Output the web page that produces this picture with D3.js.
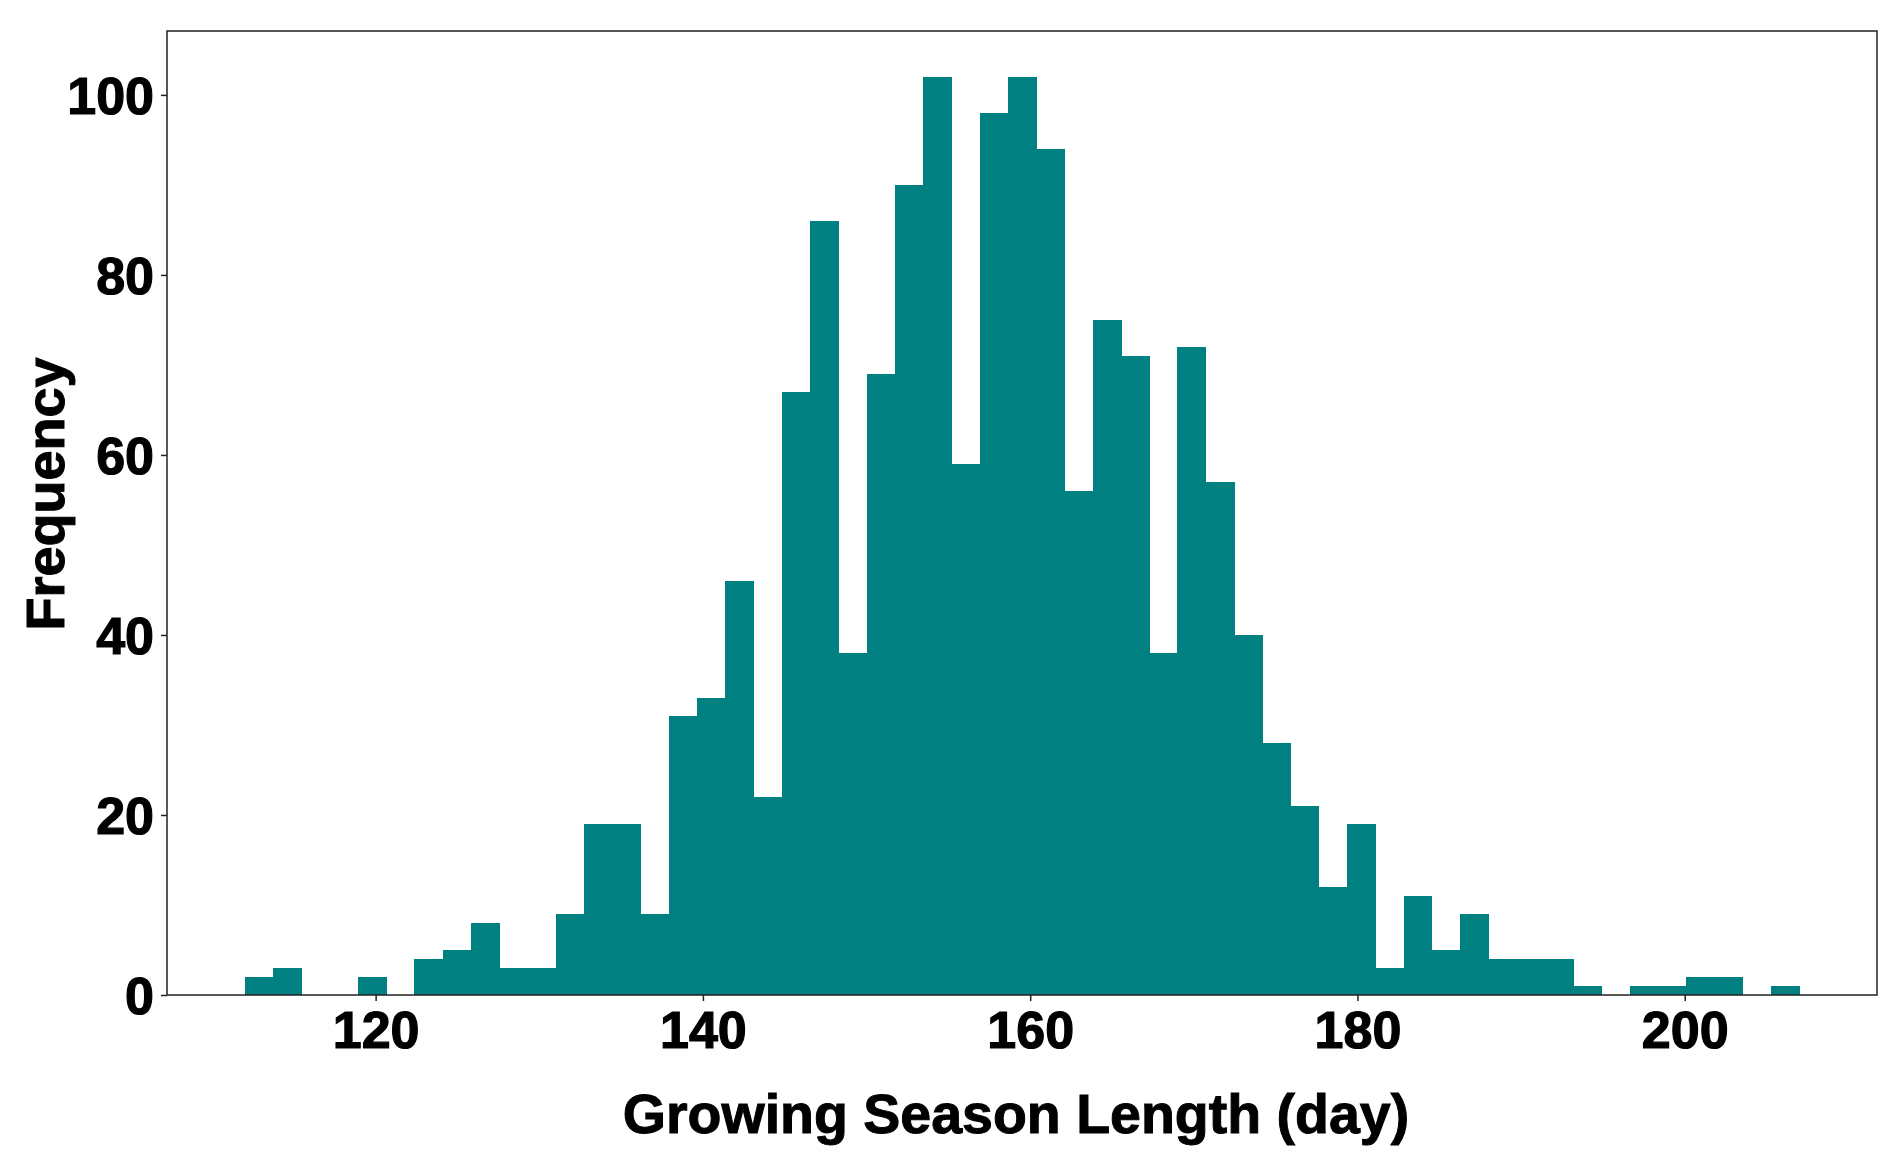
<!DOCTYPE html>
<html>
<head>
<meta charset="utf-8">
<script src="https://cdn.jsdelivr.net/npm/d3@7"></script>
<style>
  html, body { margin: 0; padding: 0; background: #ffffff; }
  svg { display: block; }
  text { font-family: "Liberation Sans", Arial, sans-serif; font-weight: bold; fill: #000; }
</style>
</head>
<body>
<svg id="chart" width="1899" height="1161"></svg>
<script>
// ---- data ----
const binStart = 112;          // left edge of first bin (day)
const binEnd = 207;            // right edge of last bin (day)
const counts = [
  2, 3, 0, 0, 2, 0, 4, 5, 8, 3,
  3, 9, 19, 19, 9, 31, 33, 46, 22, 67,
  86, 38, 69, 90, 102, 59, 98, 102, 94, 56,
  75, 71, 38, 72, 57, 40, 28, 21, 12, 19,
  3, 11, 5, 9, 4, 4, 4, 1, 0, 1,
  1, 2, 2, 0, 1
];
const xTicks = [120, 140, 160, 180, 200];
const yTicks = [0, 20, 40, 60, 80, 100];
const xLabel = "Growing Season Length (day)";
const yLabel = "Frequency";

// ---- layout ----
const plot = { left: 167, top: 31, right: 1877, bottom: 995 };
const barColor = "#008080";

const svg = d3.select("#chart");

const nBins = counts.length;
const binW = (binEnd - binStart) / nBins;
const bins = counts.map((c, i) => ({ x0: binStart + i * binW, x1: binStart + (i + 1) * binW, c }));

const pad = (binEnd - binStart) * 0.05;
const x = d3.scaleLinear().domain([binStart - pad, binEnd + pad]).range([plot.left, plot.right]);
const yMax = d3.max(counts) * 1.05;
const y = d3.scaleLinear().domain([0, yMax]).range([plot.bottom, plot.top]);

// bars
svg.append("g")
  .attr("shape-rendering", "crispEdges")
  .selectAll("rect")
  .data(bins.filter(d => d.c > 0))
  .join("rect")
  .attr("x", d => x(d.x0))
  .attr("width", d => x(d.x1) - x(d.x0) + 0.6)
  .attr("y", d => y(d.c))
  .attr("height", d => y(0) - y(d.c))
  .attr("fill", barColor);

// frame
svg.append("rect")
  .attr("x", plot.left).attr("y", plot.top)
  .attr("width", plot.right - plot.left).attr("height", plot.bottom - plot.top)
  .attr("fill", "none").attr("stroke", "#222").attr("stroke-width", 1.5);

// axes
const xAxis = svg.append("g")
  .attr("transform", `translate(0,${plot.bottom})`)
  .call(d3.axisBottom(x).tickValues(xTicks).tickSize(6).tickPadding(10).tickSizeOuter(0));
const yAxis = svg.append("g")
  .attr("transform", `translate(${plot.left},0)`)
  .call(d3.axisLeft(y).tickValues(yTicks).tickSize(6).tickPadding(7).tickSizeOuter(0));

[xAxis, yAxis].forEach(g => {
  g.select(".domain").remove();
  g.selectAll(".tick line").attr("stroke", "#222").attr("stroke-width", 1.5);
  g.selectAll(".tick text")
    .attr("fill", "#000")
    .attr("stroke", "#000")
    .attr("stroke-width", 1.2)
    .style("font-family", "'Liberation Sans', Arial, sans-serif")
    .style("font-weight", "bold")
    .style("font-size", "52px");
});
yAxis.selectAll(".tick text").attr("dy", "0.36em");

// axis labels
svg.append("text")
  .attr("x", 1016)
  .attr("y", 1133)
  .attr("text-anchor", "middle")
  .attr("stroke", "#000").attr("stroke-width", 1)
  .style("font-size", "55.5px")
  .text(xLabel);

svg.append("text")
  .attr("transform", `translate(64,494) rotate(-90)`)
  .attr("text-anchor", "middle")
  .attr("stroke", "#000").attr("stroke-width", 1)
  .style("font-size", "54px")
  .text(yLabel);
</script>
</body>
</html>
